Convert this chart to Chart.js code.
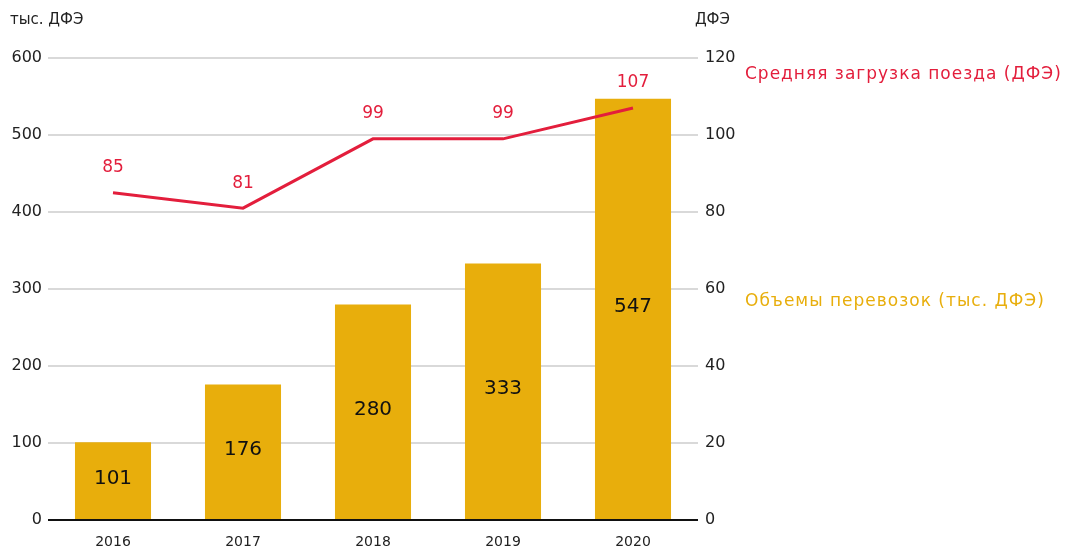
<!DOCTYPE html>
<html><head><meta charset="utf-8">
<script src="https://cdn.jsdelivr.net/npm/chart.js@4"></script>
<style>html,body{margin:0;padding:0;background:#fff}#w{position:relative;width:1067px;height:547px}</style>
</head><body><div id="w"><canvas id="c" width="1067" height="547"></canvas></div>
<script>
const categories = ['2016','2017','2018','2019','2020'];
const volumes = [101,176,280,333,547];
const avgLoad = [85,81,99,99,107];
const leftTicks = [0,100,200,300,400,500,600];
const rightTicks = [0,20,40,60,80,100,120];
const volumeLabel = 'Объемы перевозок (тыс. ДФЭ)';
const loadLabel = 'Средняя загрузка поезда (ДФЭ)';
const leftTitle = 'тыс. ДФЭ';
const rightTitle = 'ДФЭ';

const FONT = 'DejaVu Sans';
const YEL = '#e8ae0c', RED = '#e31e3c', TXT = '#222';

const labelsPlugin = {
  id: 'labels',
  afterDatasetsDraw(chart) {
    const ctx = chart.ctx;
    ctx.save();
    ctx.textAlign = 'center'; ctx.textBaseline = 'middle';
    const mb = chart.getDatasetMeta(1);
    ctx.font = '20px "' + FONT + '"'; ctx.fillStyle = '#111';
    mb.data.forEach((el, i) => {
      const mid = (el.y + el.base) / 2 - 2;
      ctx.fillText(String(volumes[i]), el.x, mid);
    });
    const ml = chart.getDatasetMeta(0);
    ctx.font = '17px "' + FONT + '"'; ctx.fillStyle = RED;
    ml.data.forEach((el, i) => { ctx.fillText(String(avgLoad[i]), el.x, el.y - 25); });
    // axis line
    const a = chart.chartArea;
    ctx.strokeStyle = '#111'; ctx.lineWidth = 2;
    ctx.beginPath(); ctx.moveTo(a.left, a.bottom); ctx.lineTo(a.right, a.bottom); ctx.stroke();
    // titles
    ctx.font = '15px "' + FONT + '"'; ctx.fillStyle = TXT;
    ctx.textAlign = 'left'; ctx.fillText(leftTitle, 10, 20);
    ctx.textAlign = 'right'; ctx.fillText(rightTitle, 730, 20);
    ctx.font = '17px "' + FONT + '"'; ctx.textAlign = 'left';
    ctx.letterSpacing = '1px';
    ctx.fillStyle = RED; ctx.fillText(loadLabel, 745, 75);
    ctx.fillStyle = YEL; ctx.fillText(volumeLabel, 745, 302);
    ctx.restore();
  }
};

new Chart(document.getElementById('c'), {
  data: {
    labels: categories,
    datasets: [
      { type: 'line', label: loadLabel, data: avgLoad, yAxisID: 'y1', borderColor: RED, borderWidth: 3,
        pointRadius: 0, fill: false, tension: 0, order: 0 },
      { type: 'bar', label: volumeLabel, data: volumes, yAxisID: 'y', backgroundColor: YEL,
        barPercentage: 0.585, categoryPercentage: 1, order: 1 }
    ]
  },
  options: {
    responsive: false, animation: false,
    layout: { padding: { top: 58, bottom: 0, left: 0, right: 0 } },
    plugins: { legend: { display: false }, tooltip: { enabled: false } },
    scales: {
      x: { grid: { display: false }, border: { display: false },
        ticks: { color: TXT, font: { family: FONT, size: 14 }, padding: 6 },
        afterFit(s) { s.height = 27; } },
      y: { position: 'left', min: 0, max: 600,
        afterBuildTicks(s) { s.ticks = leftTicks.map(v => ({ value: v })); },
        grid: { color: '#d9d9d9', lineWidth: 2, drawTicks: false },
        border: { display: false },
        ticks: { color: TXT, font: { family: FONT, size: 16 }, padding: 6 },
        afterFit(s) { s.width = 48; } },
      y1: { position: 'right', min: 0, max: 120,
        afterBuildTicks(s) { s.ticks = rightTicks.map(v => ({ value: v })); },
        grid: { display: false, drawTicks: false }, border: { display: false },
        ticks: { color: TXT, font: { family: FONT, size: 16 }, padding: 7 },
        afterFit(s) { s.width = 369; } }
    }
  },
  plugins: [labelsPlugin]
});
</script></body></html>
